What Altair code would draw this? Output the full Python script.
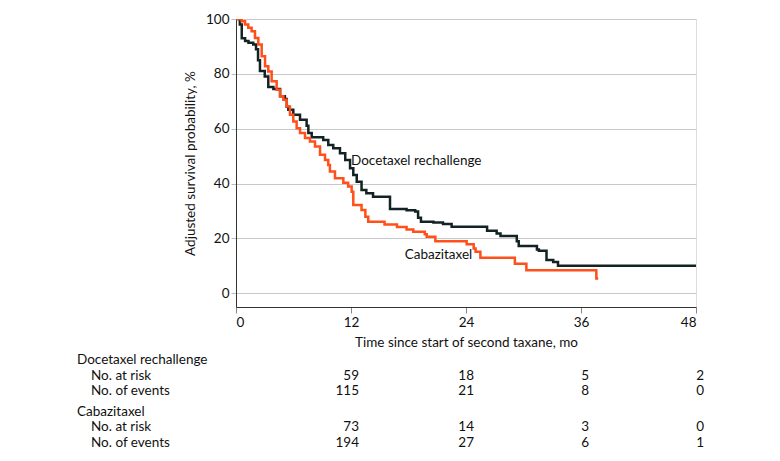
import altair as alt
import pandas as pd

# ---- data ----
doc_t = [0, 0.4, 0.6, 0.95, 1.3, 1.8, 2.09, 2.3, 2.5, 3.0, 3.37, 3.9, 4.6, 5.1, 5.3, 5.46, 5.98,
         6.68, 7.37, 7.55, 7.9, 9.1, 9.63, 10.15, 10.85, 11.4, 11.9, 12.24, 12.6, 13.1, 13.6,
         14.3, 16.07, 17.8, 18.7, 19.0, 19.3, 20.6, 21.6, 22.5, 26.2, 27.2, 27.6, 29.3, 29.5,
         31.4, 31.6, 32.4, 33.1, 33.6, 48]
doc_s = [100, 98, 93, 92, 91.3, 90.7, 89, 85, 81, 79, 75.2, 74.5, 71.8, 70.8, 68, 66.9, 65.1,
         63.3, 61.1, 58.4, 56.9, 55.9, 54.1, 52.9, 51.1, 48.6, 45.6, 43.1, 40.7, 37.7, 36.5,
         35.2, 30.7, 30.3, 29.8, 27.5, 26.1, 25.8, 25.3, 24.3, 22.8, 21.8, 20.9, 19.0, 17.2,
         16.0, 15.5, 12.1, 11.4, 10.0, 10.0]

cab_t = [0, 0.59, 0.94, 1.28, 1.63, 1.98, 2.33, 2.68, 3.03, 3.37, 3.72, 4.24, 4.6, 4.94, 5.29,
         5.63, 5.98, 6.33, 6.68, 7.2, 7.72, 8.24, 8.77, 9.29, 9.63, 9.8, 10.33, 11.2, 11.7,
         12.07, 12.24, 13.1, 13.5, 13.8, 15.5, 16.8, 17.8, 18.5, 19.7, 19.9, 20.8, 24.07, 24.8,
         25.0, 25.5, 29.1, 30.3, 37.6, 37.8]
cab_s = [100, 99.2, 98, 96.8, 95.5, 93.1, 90.7, 86.4, 82.8, 80.9, 77.3, 74.2, 71.8, 70.6, 68.1,
         65.1, 62.6, 60.2, 58.4, 56.6, 55.3, 53.5, 50.5, 48.6, 46.8, 44.4, 41.9, 40.3, 38.9,
         37.0, 32.2, 30.4, 27.9, 26.1, 25.1, 24.2, 23.3, 22.4, 21.5, 20.6, 19.0, 17.9, 16.3,
         15.1, 13.0, 10.8, 8.4, 5.4, 5.4]

table_times = [12, 24, 36, 48]
doc_at_risk = [59, 18, 5, 2]
doc_events = [115, 21, 8, 0]
cab_at_risk = [73, 14, 3, 0]
cab_events = [194, 27, 6, 1]

groups = ["Docetaxel rechallenge", "Cabazitaxel"]
colors = ["#132222", "#ff4f1a"]

FONT = "Lato"
FS = 13.5

curves = pd.concat([
    pd.DataFrame({"t": doc_t, "s": doc_s, "g": groups[0]}),
    pd.DataFrame({"t": cab_t, "s": cab_s, "g": groups[1]}),
])

xscale = alt.Scale(domain=[0, 48], nice=False)
yscale = alt.Scale(domain=[-5, 100], nice=False)

x_enc = alt.X("t:Q", scale=xscale,
              axis=alt.Axis(values=[0, 12, 24, 36, 48], title="Time since start of second taxane, mo",
                            grid=False, domainColor="#333333", tickColor="#888888", tickSize=6,
                            labelFontSize=FS, titleFontSize=FS, labelPadding=2, titlePadding=7,
                            titleFontWeight="normal", labelColor="#111111", titleColor="#111111",
                            labelFont=FONT, titleFont=FONT))
y_enc = alt.Y("s:Q", scale=yscale,
              axis=alt.Axis(values=[0, 20, 40, 60, 80, 100], title="Adjusted survival probability, %",
                            grid=True, gridColor="#c8c8c8", gridWidth=1.2, domainColor="#333333",
                            tickColor="#bbbbbb", tickSize=5, labelFontSize=FS, titleFontSize=FS,
                            labelPadding=2, titlePadding=8, titleFontWeight="normal",
                            labelColor="#111111", titleColor="#111111", labelFont=FONT, titleFont=FONT))

lines = alt.Chart(curves).mark_line(interpolate="step-after", strokeWidth=2.5, clip=True).encode(
    x=x_enc, y=y_enc,
    color=alt.Color("g:N", scale=alt.Scale(domain=groups, range=colors), legend=None),
    detail="g:N",
)

lab_df = pd.DataFrame({"t": [12.0, 17.6], "s": [48.3, 13.9], "label": groups})
labels = alt.Chart(lab_df).mark_text(align="left", baseline="middle", fontSize=FS, font=FONT,
                                     color="#111111").encode(
    x=alt.X("t:Q", scale=xscale), y=alt.Y("s:Q", scale=yscale), text="label:N")

layers = [lines, labels]

def num_row(values, ypix):
    df = pd.DataFrame({"t": table_times, "v": [str(v) for v in values]})
    return alt.Chart(df).mark_text(align="right", baseline="middle", fontSize=FS, font=FONT,
                                   color="#111111", dx=8).encode(
        x=alt.X("t:Q", scale=xscale), y=alt.value(ypix), text="v:N")

def text_row(txt, xpix, ypix):
    df = pd.DataFrame({"label": [txt]})
    return alt.Chart(df).mark_text(align="left", baseline="middle", fontSize=FS, font=FONT,
                                   color="#111111").encode(
        x=alt.value(xpix), y=alt.value(ypix), text="label:N")

layers += [
    text_row(groups[0], -159, 341),
    text_row("No. at risk", -145, 357),
    text_row("No. of events", -145, 372),
    text_row(groups[1], -159, 393),
    text_row("No. at risk", -145, 408),
    text_row("No. of events", -145, 424),
    num_row(doc_at_risk, 357),
    num_row(doc_events, 372),
    num_row(cab_at_risk, 408),
    num_row(cab_events, 424),
]

chart = alt.layer(*layers).properties(
    width=460, height=288,
    autosize=alt.AutoSizeParams(type="none"),
    padding={"left": 236, "top": 19, "right": 84, "bottom": 154},
).configure_view(stroke=None).configure(background="white")

chart.save("out.html", embed_options={"renderer": "svg", "actions": False})
